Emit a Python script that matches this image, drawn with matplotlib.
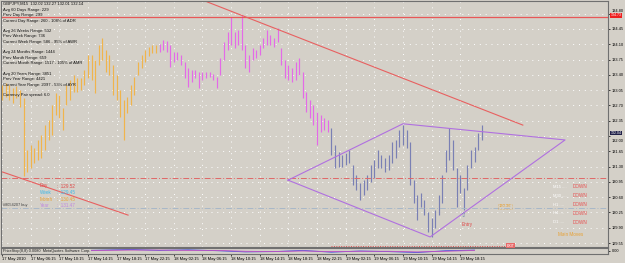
import numpy as np
import matplotlib.pyplot as plt
import matplotlib.transforms as mtransforms

plt.rcParams['font.family'] = ['Liberation Sans', 'DejaVu Sans']

# --- data (GBPJPY, one bar per 30 min from 17 May 02:15) ---
highs = [133.17, 133.21, 133.17, 133.10, 133.15, 133.05, 132.87, 131.68, 131.80, 131.73,
         131.91, 132.02, 132.25, 132.37, 132.71, 132.99, 132.94, 132.64, 133.17, 133.28,
         133.40, 133.33, 133.33, 133.51, 133.85, 133.85, 133.74, 134.08, 134.24, 133.97,
         133.85, 133.63, 133.40, 133.05, 132.83, 132.89, 133.17, 133.35, 133.69, 133.85,
         133.97, 134.04, 134.08, 134.08, 134.11, 134.20, 134.18, 134.08, 133.92, 133.92,
         133.85, 133.69, 133.56, 133.51, 133.51, 133.47, 133.47, 133.47, 133.47, 133.42,
         133.35, 133.79, 134.15, 134.38, 134.72, 134.38, 134.43, 134.77, 134.08, 133.85,
         134.02, 133.97, 134.08, 134.24, 134.43, 134.31, 134.24, 134.47, 134.02, 133.74,
         133.63, 133.56, 133.69, 133.79, 133.47, 133.01, 132.83, 132.71, 132.55, 132.48,
         132.41, 132.37, 132.18, 131.80, 131.64, 131.57, 131.61, 131.68, 131.34, 131.11,
         130.93, 130.99, 131.11, 131.34, 131.45, 131.68, 131.57, 131.50, 131.57, 131.86,
         131.91, 132.14, 132.25, 132.14, 131.86, 130.99, 130.65, 130.70, 130.54, 130.26,
         130.13, 130.31, 130.65, 131.11, 131.68, 132.18, 131.91, 131.27, 131.11, 130.81,
         131.34, 131.68, 131.75, 132.07, 132.25]
lows = [132.83, 132.89, 132.83, 132.76, 132.87, 132.67, 131.09, 131.18, 131.27, 131.38,
        131.45, 131.50, 131.68, 131.91, 132.02, 132.48, 132.41, 132.14, 132.71, 132.83,
        133.01, 133.01, 133.05, 133.17, 133.33, 133.28, 132.99, 133.63, 133.74, 133.47,
        133.40, 132.94, 132.83, 132.44, 131.91, 132.53, 132.71, 132.94, 133.40, 133.56,
        133.69, 133.83, 133.90, 133.90, 133.92, 133.97, 133.92, 133.58, 133.69, 133.74,
        133.63, 133.33, 133.12, 133.24, 133.33, 133.10, 133.28, 133.33, 133.35, 133.28,
        133.10, 133.40, 133.74, 133.97, 134.08, 134.02, 134.08, 133.97, 133.56, 133.47,
        133.74, 133.79, 133.85, 134.02, 134.08, 134.08, 134.04, 134.15, 133.63, 133.33,
        133.28, 133.24, 133.28, 133.40, 132.87, 132.55, 132.41, 132.25, 131.80, 132.09,
        132.14, 132.09, 131.57, 131.27, 131.29, 131.29, 131.34, 131.38, 130.88, 130.77,
        130.54, 130.65, 130.77, 130.95, 131.04, 131.27, 131.27, 131.18, 131.22, 131.38,
        131.50, 131.75, 131.80, 131.73, 130.88, 130.47, 130.08, 130.38, 130.19, 129.80,
        129.69, 129.90, 130.19, 130.47, 131.18, 131.45, 131.22, 130.38, 130.70, 130.31,
        130.77, 131.27, 131.41, 131.68, 131.91]
# bars belong to three colour groups (bar index where each group ends)
group_ends = [44, 92, 135]
group_colors = ['#f0b44c', '#e46ae8', '#7a80b4']

time_labels = ['17 May 2010', '17 May 06:15', '17 May 10:15', '17 May 14:15', '17 May 18:15',
               '17 May 22:15', '18 May 02:15', '18 May 06:15', '18 May 10:15', '18 May 14:15',
               '18 May 18:15', '18 May 22:15', '19 May 02:15', '19 May 06:15', '19 May 10:15',
               '19 May 14:15', '19 May 18:15']
price_ticks = [129.55, 129.90, 130.25, 130.60, 130.95, 131.30, 131.65, 132.00, 132.35,
               132.70, 133.05, 133.40, 133.75, 134.10, 134.45, 134.80]

current_price = 132.04
line_top = 134.73
line_day = 131.05
line_order = 130.36
line_stop = 129.49

trend_top = ([57.3, 145.5], [135.07, 132.25])
trend_low = ([0.0, 35.2], [131.18, 130.19])
diamond_x = [79.9, 112.0, 157.3, 119.6, 79.9]
diamond_y = [130.99, 132.28, 131.91, 129.69, 130.99]
entry_bar, entry_price = 129, 130.17

info_lines = ['GBPJPY,M15  132.02 132.27 132.01 132.14',
              'Avg 60 Days Range: 229', 'Prev Day Range: 299',
              'Current Day Range: 260 - 108% of ADR', '',
              'Avg 26 Weeks Range: 532', 'Prev Week Range: 736',
              'Current Week Range: 586 - 95% of AWR', '',
              'Avg 24 Months Range: 1444', 'Prev Month Range: 659',
              'Current Month Range: 1517 - 105% of AMR', '',
              'Avg 20 Years Range: 3851', 'Prev Year Range: 4421',
              'Current Year Range: 2097 - 53% of AYR', '',
              'Currency Pair spread: 6.0']
open_names = ['Day', 'Week', 'Month', 'Year']
open_values = [129.52, 129.45, 130.45, 131.47]
open_colors = ['#e04848', '#40b8e8', '#e8a030', '#c088e0']
tf_names = ['M15', 'M30', 'H1', 'H4', 'D1']
tf_trend = ['DOWN', 'DOWN', 'DOWN', 'DOWN', 'DOWN']

ind_x = [20, 28, 36, 44, 52, 60, 68, 76, 84, 92, 100, 108, 116, 124, 132]
ind_blue = [0.1, 0.3, 0.5, 0.2, 0.4, 0.1, -0.3, -0.2, 0.2, -0.4, 0.0, -0.2, -0.5, 0.1, 0.3]
ind_red = [0.0, 0.2, 0.3, 0.3, 0.2, 0.2, -0.1, -0.2, 0.0, -0.2, -0.1, -0.1, -0.3, -0.1, 0.2]

BG = '#d4d0c8'
W, H = 625, 263


def fx(x):
    return x / W


def fy(y):
    return 1 - y / H


fig = plt.figure(figsize=(6.25, 2.63), dpi=100, facecolor=BG)
ax = fig.add_axes([fx(1), fy(247), fx(607), 246 / H], facecolor=BG)
sub = fig.add_axes([fx(1), fy(254), fx(607), 6 / H], facecolor=BG, sharex=ax)

idx = np.arange(len(highs))
colors = []
start = 0
for end, c in zip(group_ends, group_colors):
    colors += [c] * (end - start)
    start = end
ax.vlines(idx, lows, highs, colors=colors, lw=0.85)

ax.set_xlim(-0.3, 169.3)
ax.set_ylim(129.46, 135.09)

# dotted grid
for p in price_ticks:
    ax.axhline(p, color='white', lw=0.7, ls=(0, (1, 5)), zorder=0)
tick_pos = np.arange(len(time_labels)) * 8
for t in tick_pos:
    ax.axvline(t, color='white', lw=0.7, ls=(0, (1, 5)), zorder=0)

# levels and drawn objects
ax.axhline(line_top, color='#e85858', lw=0.9)
ax.axhline(line_day, color='#e06868', lw=0.7, ls=(0, (6, 2, 1, 2)))
ax.axhline(line_order, color='#a8b8c8', lw=0.7, ls=(0, (6, 2, 1, 2)))
ax.plot([92, 141], [line_stop, line_stop], color='#e05050', lw=0.7, ls=(0, (1, 1.5)))
ax.plot(*trend_top, color='#e86060', lw=0.8)
ax.plot(*trend_low, color='#e86060', lw=0.8)
ax.plot(diamond_x, diamond_y, color='#b070e0', lw=0.8)

ax.text(entry_bar, entry_price, '\u21e7', color='#6a80b0', fontsize=4.5,
        ha='center', va='center', family=['DejaVu Sans'])
ax.text(entry_bar + 1, entry_price - 0.2, 'Entry', color='#e04848', fontsize=3.3,
        ha='center', va='center')
ax.text(141, line_stop, 'EXIT', color='white', fontsize=2.6, ha='left', va='center',
        bbox=dict(boxstyle='square,pad=0.15', fc='#e86868', ec='none'))
ax.text(140.5, line_order + 0.03, '130.36', color='#e8a030', fontsize=3,
        ha='center', va='center',
        bbox=dict(boxstyle='square,pad=0.1', fc='none', ec='#e8a030', ls=':', lw=0.4))

# right price axis
ax.yaxis.tick_right()
ax.set_yticks(price_ticks)
ax.set_yticklabels([f'{p:.2f}' for p in price_ticks])
ax.tick_params(axis='y', labelsize=2.8, length=1.5, width=0.5, pad=1, colors='black')
ax.tick_params(axis='x', bottom=False, labelbottom=False)
# nudge the two labels that sit next to the price boxes
ylbls = ax.get_yticklabels()
for k, shift in [(len(price_ticks) - 1, 2.5), (price_ticks.index(132.00), -3.5)]:
    lbl = ylbls[k]
    lbl.set_transform(lbl.get_transform()
                      + mtransforms.ScaledTranslation(0, shift / 72, fig.dpi_scale_trans))
trans = mtransforms.blended_transform_factory(ax.transAxes, ax.transData)
for val, fc in [(line_top, '#ee2020'), (current_price, '#202048')]:
    ax.text(1.004, val + 0.03, f'{val:.2f}', transform=trans, color='white', fontsize=2.5,
            ha='left', va='center',
            bbox=dict(boxstyle='square,pad=0.05', fc=fc, ec='none'))

for a in (ax, sub):
    for s in a.spines.values():
        s.set_color('#707070')
        s.set_linewidth(0.8)

# indicator window
sub.plot(ind_x, ind_blue, color='#4050e0', lw=0.6)
sub.plot(ind_x, ind_red, color='#c050c0', lw=0.6)
sub.set_ylim(-1, 1)
sub.yaxis.tick_right()
sub.set_yticks([0])
sub.set_yticklabels(['0.00'])
sub.tick_params(axis='y', labelsize=2.8, length=1.5, width=0.5, pad=1)
sub.set_xticks(tick_pos)
sub.set_xticklabels(time_labels)
sub.tick_params(axis='x', labelsize=3, length=1.5, width=0.5, pad=1)
for lbl in sub.get_xticklabels():
    lbl.set_ha('left')
sub.text(0.004, 0.5, 'PriceStop(8,8) 0.0080  MetaQuotes Software Corp.',
         transform=sub.transAxes, fontsize=2.8, color='#202020', va='center',
         bbox=dict(boxstyle='square,pad=0.05', fc=BG, ec='none'))

# info block top-left
line_y = 4
for line in info_lines:
    if line:
        fig.text(fx(3), fy(line_y), line, fontsize=3, color='#101010', va='center')
    line_y += 5.6 if line else 4.5

# day / week / month / year opens
for k, (n, v, c) in enumerate(zip(open_names, open_values, open_colors)):
    y = 186 + k * 6.6
    fig.text(fx(40), fy(y), n, fontsize=3.3, color=c, va='center')
    fig.text(fx(57), fy(y), f':  {v:.2f}', fontsize=3.3, color=c, va='center')
fig.text(fx(3), fy(205), '#8054207 buy', fontsize=2.8, color='#404040', va='center')

# trend panel on the right
for k, (n, d) in enumerate(zip(tf_names, tf_trend)):
    y = 187 + k * 8.8
    fig.text(fx(553), fy(y), n + ' ....', fontsize=3, color='white', va='center')
    fig.text(fx(573), fy(y), d, fontsize=3.3, color='#e85050', va='center')
fig.text(fx(558), fy(234), 'Main Moves', fontsize=3.3, color='#e8a030', va='center')

fig.savefig('out.png', dpi=100, facecolor=BG)
